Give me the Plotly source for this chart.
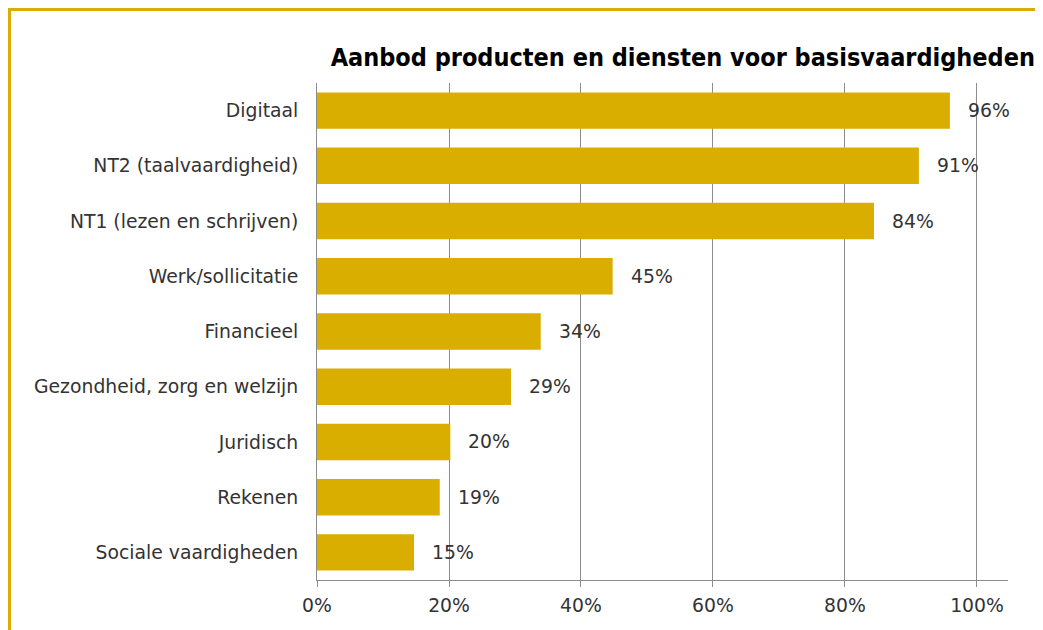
import plotly.graph_objects as go

categories = ["Digitaal", "NT2 (taalvaardigheid)", "NT1 (lezen en schrijven)",
              "Werk/sollicitatie", "Financieel", "Gezondheid, zorg en welzijn",
              "Juridisch", "Rekenen", "Sociale vaardigheden"]
values = [0.959, 0.912, 0.844, 0.448, 0.339, 0.294, 0.202, 0.186, 0.147]
tick_vals = [0, 0.2, 0.4, 0.6, 0.8, 1.0]
tick_text = ["0%", "20%", "40%", "60%", "80%", "100%"]
title_text = "Aanbod producten en diensten voor basisvaardigheden"

W, H = 1043, 630
OFF = 8  # page body offset
ML, MR, MT, MB = 317 - OFF, 1043 - 1008 + OFF, 83 - OFF, 630 - 580 + OFF
GOLD = "#D9AE00"
TXT = "#333333"
FONT = "DejaVu Sans"
FS = 18.8

fig = go.Figure(go.Bar(
    x=values, y=categories, orientation="h",
    marker=dict(color=GOLD, line=dict(width=0)),
    width=0.66, hoverinfo="skip",
))

for c, v in zip(categories, values):
    fig.add_annotation(x=v, y=c, xref="x", yref="y", text=f"{round(v*100):.0f}%",
                       showarrow=False, xanchor="left", xshift=16,
                       font=dict(family=FONT, size=FS, color=TXT))

pw = W - ML - MR
ph = H - MT - MB
def px_x(p):
    return (p - OFF - ML) / pw
def px_y(p):
    return (H - MB - (p - OFF)) / ph

# yellow frame (left and top)
fig.add_shape(type="line", xref="paper", yref="paper",
              x0=px_x(9.5), x1=px_x(9.5), y0=px_y(8), y1=px_y(660),
              line=dict(color=GOLD, width=3))
fig.add_shape(type="line", xref="paper", yref="paper",
              x0=px_x(8), x1=px_x(1080), y0=px_y(9.5), y1=px_y(9.5),
              line=dict(color=GOLD, width=3))

fig.update_layout(
    width=W, height=H,
    margin=dict(l=ML, r=MR, t=MT, b=MB),
    paper_bgcolor="white", plot_bgcolor="white",
    showlegend=False,
    title=dict(text=f"<b>{title_text}</b>", x=(1035 - OFF) / W, xanchor="right",
               y=1 - (57 - OFF) / H, yanchor="middle",
               font=dict(family="DejaVu Sans Condensed, DejaVu Sans", size=25, color="black")),
    xaxis=dict(range=[0, 1.047], tickvals=tick_vals, ticktext=tick_text,
               showgrid=True, gridcolor="#8c8c8c", gridwidth=1,
               showline=True, linecolor="#8c8c8c", linewidth=1,
               ticks="outside", ticklen=6, tickcolor="#8c8c8c",
               tickfont=dict(family=FONT, size=FS, color=TXT),
               ticklabelstandoff=2,
               zeroline=False, fixedrange=True),
    yaxis=dict(autorange="reversed", showline=True, linecolor="#8c8c8c",
               linewidth=1, ticks="",
               tickfont=dict(family=FONT, size=FS, color=TXT),
               ticklabelstandoff=14, fixedrange=True),
    bargap=0.34,
)

fig.write_html("out.html")
